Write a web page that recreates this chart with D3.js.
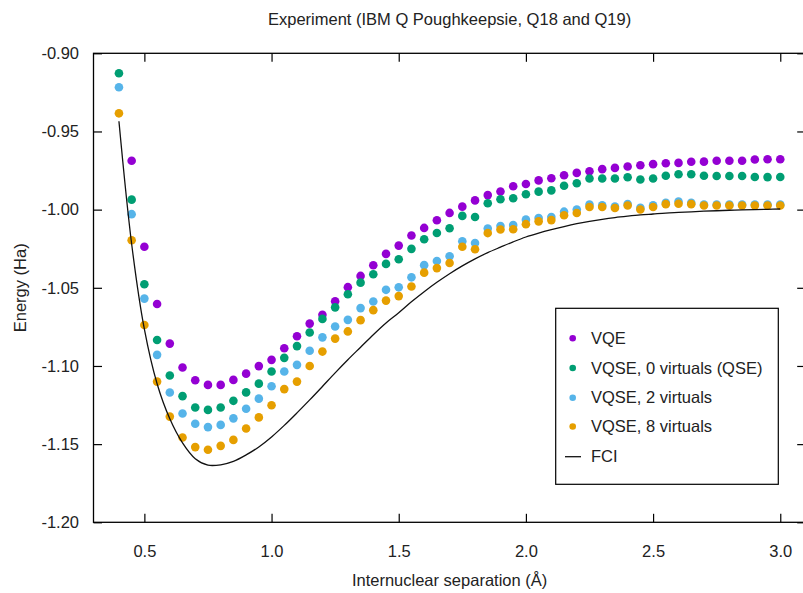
<!DOCTYPE html>
<html>
<head>
<meta charset="utf-8">
<script src="https://cdn.jsdelivr.net/npm/d3@7"></script>
<style>
  html, body { margin: 0; padding: 0; background: #fff; }
  svg text { font-family: "Liberation Sans", Arial, sans-serif; fill: #222; }
</style>
</head>
<body>
<svg id="chart" width="803" height="593"></svg>
<script>
// ---------------- data ----------------
const separation = [0.40,0.45,0.50,0.55,0.60,0.65,0.70,0.75,0.80,0.85,0.90,0.95,1.00,1.05,1.10,1.15,1.20,1.25,1.30,1.35,1.40,1.45,1.50,1.55,1.60,1.65,1.70,1.75,1.80,1.85,1.90,1.95,2.00,2.05,2.10,2.15,2.20,2.25,2.30,2.35,2.40,2.45,2.50,2.55,2.60,2.65,2.70,2.75,2.80,2.85,2.90,2.95,3.00];

const vqe = [null,-0.9687,-1.0237,-1.0604,-1.0857,-1.1010,-1.1091,-1.1121,-1.1121,-1.1089,-1.1049,-1.1001,-1.0961,-1.0887,-1.0810,-1.0729,-1.0673,-1.0586,-1.0496,-1.0424,-1.0356,-1.0283,-1.0230,-1.0165,-1.0117,-1.0068,-1.0021,-0.9981,-0.9941,-0.9907,-0.9884,-0.9850,-0.9836,-0.9813,-0.9799,-0.9780,-0.9765,-0.9754,-0.9741,-0.9733,-0.9724,-0.9716,-0.9709,-0.9703,-0.9701,-0.9694,-0.9693,-0.9687,-0.9687,-0.9687,-0.9679,-0.9678,-0.9678];

const vqse0 = [-0.9128,-0.9936,-1.0477,-1.0834,-1.1061,-1.1193,-1.1266,-1.1281,-1.1266,-1.1223,-1.1169,-1.1113,-1.1035,-1.0948,-1.0873,-1.0786,-1.0699,-1.0625,-1.0541,-1.0467,-1.0413,-1.0347,-1.0317,-1.0251,-1.0189,-1.0149,-1.0119,-1.0040,-1.0047,-0.9959,-0.9934,-0.9927,-0.9902,-0.9885,-0.9877,-0.9847,-0.9831,-0.9801,-0.9801,-0.9801,-0.9793,-0.9807,-0.9801,-0.9783,-0.9774,-0.9774,-0.9783,-0.9785,-0.9785,-0.9785,-0.9791,-0.9792,-0.9791];

const vqse2 = [-0.9217,-1.0029,-1.0569,-1.0929,-1.1170,-1.1304,-1.1370,-1.1391,-1.1377,-1.1335,-1.1274,-1.1209,-1.1130,-1.1035,-1.0993,-1.0903,-1.0817,-1.0748,-1.0705,-1.0630,-1.0588,-1.0513,-1.0497,-1.0433,-1.0355,-1.0329,-1.0298,-1.0202,-1.0213,-1.0121,-1.0105,-1.0098,-1.0064,-1.0054,-1.0047,-1.0013,-0.9999,-0.9968,-0.9973,-0.9980,-0.9964,-0.9989,-0.9973,-0.9957,-0.9948,-0.9957,-0.9967,-0.9967,-0.9967,-0.9967,-0.9967,-0.9967,-0.9967];

const vqse8 = [-0.9384,-1.0196,-1.0738,-1.1100,-1.1324,-1.1458,-1.1519,-1.1536,-1.1511,-1.1473,-1.1400,-1.1329,-1.1251,-1.1148,-1.1100,-1.1000,-1.0908,-1.0825,-1.0779,-1.0707,-1.0643,-1.0582,-1.0553,-1.0492,-1.0403,-1.0374,-1.0341,-1.0237,-1.0253,-1.0150,-1.0127,-1.0125,-1.0093,-1.0075,-1.0067,-1.0036,-1.0022,-0.9983,-0.9983,-0.9990,-0.9974,-0.9999,-0.9983,-0.9965,-0.9962,-0.9965,-0.9974,-0.9974,-0.9974,-0.9974,-0.9974,-0.9974,-0.9974];

const fci = [-0.9435,-1.0220,-1.0765,-1.1114,-1.1338,-1.1492,-1.1593,-1.1634,-1.1632,-1.1610,-1.1569,-1.1518,-1.1454,-1.1380,-1.1300,-1.1217,-1.1131,-1.1044,-1.0960,-1.0880,-1.0800,-1.0725,-1.0660,-1.0590,-1.0525,-1.0465,-1.0410,-1.0360,-1.0315,-1.0275,-1.0240,-1.0206,-1.0175,-1.0150,-1.0128,-1.0108,-1.0090,-1.0075,-1.0062,-1.0051,-1.0042,-1.0034,-1.0028,-1.0022,-1.0018,-1.0014,-1.0010,-1.0007,-1.0004,-1.0002,-1.0000,-0.9998,-0.9996];

const seriesNames = ["VQE", "VQSE, 0 virtuals (QSE)", "VQSE, 2 virtuals", "VQSE, 8 virtuals"];
const seriesColors = ["#9400d3", "#009e73", "#56b4e9", "#e69f00"];
const seriesValues = [vqe, vqse0, vqse2, vqse8];
const xTicks = [0.5, 1.0, 1.5, 2.0, 2.5, 3.0];
const yTicks = [-1.20, -1.15, -1.10, -1.05, -1.00, -0.95, -0.90];
const titleText = "Experiment (IBM Q Poughkeepsie, Q18 and Q19)";
const xLabel = "Internuclear separation (Å)";
const yLabel = "Energy (Ha)";

// ---------------- layout ----------------
const svg = d3.select("#chart");
const L = 93.5, R = 805.7, T = 53.3, B = 522.3;
const x = d3.scaleLinear().domain([0.3, 3.1]).range([L, R]);
const y = d3.scaleLinear().domain([-1.20, -0.90]).range([B, T]);
const FS = 16.5;

// axes (inward ticks, mirrored)
const tick = 8.5;
const gx = svg.append("g").attr("transform", `translate(0,${B})`)
  .call(d3.axisBottom(x).tickValues(xTicks).tickSizeInner(-tick).tickSizeOuter(0)
        .tickPadding(tick + 14).tickFormat(d => d.toFixed(1)));
const gy = svg.append("g").attr("transform", `translate(${L},0)`)
  .call(d3.axisLeft(y).tickValues(yTicks).tickSizeInner(-tick).tickSizeOuter(0)
        .tickPadding(tick + 6).tickFormat(d => d.toFixed(2)));
const gt = svg.append("g").attr("transform", `translate(0,${T})`)
  .call(d3.axisTop(x).tickValues(xTicks).tickSizeInner(-tick).tickSizeOuter(0).tickFormat(""));
const gr = svg.append("g").attr("transform", `translate(${R},0)`)
  .call(d3.axisRight(y).tickValues(yTicks).tickSizeInner(-tick).tickSizeOuter(0).tickFormat(""));
[gx, gy, gt, gr].forEach(g => {
  g.select(".domain").remove();
  g.selectAll(".tick line").attr("stroke", "#000").attr("stroke-width", 1.2);
  g.selectAll(".tick text").attr("font-size", FS).attr("fill", "#222")
    .attr("font-family", "Liberation Sans, Arial, sans-serif");
});

// frame
svg.append("rect").attr("x", L).attr("y", T).attr("width", R - L).attr("height", B - T)
  .attr("fill", "none").attr("stroke", "#000").attr("stroke-width", 1.3);

// clip
svg.append("clipPath").attr("id", "plotclip").append("rect")
  .attr("x", L).attr("y", T).attr("width", R - L).attr("height", B - T);
const plot = svg.append("g").attr("clip-path", "url(#plotclip)");

// points
seriesValues.forEach((vals, i) => {
  const pts = separation.map((s, j) => [s, vals[j]]).filter(d => d[1] !== null);
  plot.append("g").selectAll("circle").data(pts).join("circle")
    .attr("cx", d => x(d[0])).attr("cy", d => y(d[1])).attr("r", 4.3)
    .attr("fill", seriesColors[i]);
});

// FCI line
const line = d3.line().x(d => x(d[0])).y(d => y(d[1])).curve(d3.curveCatmullRom.alpha(0.5));
plot.append("path").datum(separation.map((s, j) => [s, fci[j]]))
  .attr("d", line).attr("fill", "none").attr("stroke", "#111").attr("stroke-width", 1.3);

// title & labels
svg.append("text").attr("x", (L + R) / 2).attr("y", 25).attr("text-anchor", "middle")
  .attr("font-size", FS).text(titleText);
svg.append("text").attr("x", (L + R) / 2).attr("y", 586).attr("text-anchor", "middle")
  .attr("font-size", FS).text(xLabel);
svg.append("text").attr("transform", `translate(26,${(T + B) / 2}) rotate(-90)`)
  .attr("text-anchor", "middle").attr("font-size", FS).text(yLabel);

// legend
const lg = svg.append("g");
lg.append("rect").attr("x", 555.7).attr("y", 308.3).attr("width", 222.6).attr("height", 176)
  .attr("fill", "#fff").attr("stroke", "#000").attr("stroke-width", 1.2);
const rowY = [338.3, 368.0, 397.7, 426.5, 456.7];
seriesNames.forEach((name, i) => {
  lg.append("circle").attr("cx", 572.7).attr("cy", rowY[i]).attr("r", 3.3).attr("fill", seriesColors[i]);
  lg.append("text").attr("x", 591).attr("y", rowY[i]).attr("dy", "0.35em")
    .attr("font-size", FS).text(name);
});
lg.append("line").attr("x1", 565).attr("x2", 581).attr("y1", rowY[4]).attr("y2", rowY[4])
  .attr("stroke", "#111").attr("stroke-width", 1.3);
lg.append("text").attr("x", 591).attr("y", rowY[4]).attr("dy", "0.35em")
  .attr("font-size", FS).text("FCI");
</script>
</body>
</html>
